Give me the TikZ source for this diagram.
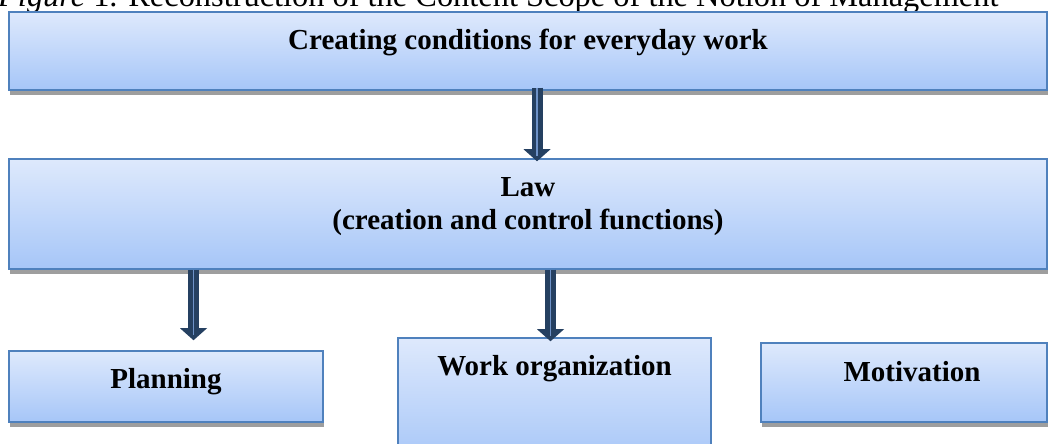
\documentclass[tikz,border=0pt]{standalone}
\usepackage{fontspec}
\setmainfont{Liberation Serif}
\usetikzlibrary{arrows.meta,shadows,calc}
\definecolor{boxtop}{RGB}{222,233,252}
\definecolor{boxbot}{RGB}{166,198,248}
\definecolor{boxline}{RGB}{79,129,189}
\definecolor{arrowdark}{RGB}{37,64,97}
\definecolor{arrowlight}{RGB}{110,146,200}
\begin{document}
\begin{tikzpicture}[x=1pt,y=1pt,
        box/.style={draw=boxline,line width=1.5pt,top color=boxtop,bottom color=boxbot,inner sep=0pt,
            drop shadow={shadow xshift=1pt,shadow yshift=-5pt,fill=black!38,opacity=1}},
        boxtext/.style={font=\bfseries\fontsize{29}{33}\selectfont,anchor=base,inner sep=0pt},
        bigarrow/.style={draw=arrowdark,line width=11pt,-{Triangle[width=27pt,length=12pt,line width=0pt]}},
        stripe/.style={draw=arrowlight,line width=1.5pt}]
        \useasboundingbox (0,0) rectangle (1049,444);
        \node[anchor=base west,inner sep=0pt,font=\fontsize{32.4}{36}\selectfont] (caption) at (-2,437.5)
            {\textit{Figure} 1. Reconstruction of the Content Scope of the Notion of Management};
        % the blocks
        \node[box,minimum width=1038pt,minimum height=78pt] (top) at (528,393) {};
        \node[box,minimum width=1038pt,minimum height=110pt] (law) at (528,230) {};
        \node[box,minimum width=314pt,minimum height=71pt] (planning) at (166,57.5) {};
        \node[box,minimum width=313pt,minimum height=126pt] (work) at (554.5,43) {};
        \node[box,minimum width=286pt,minimum height=79pt] (motivation) at (904,61.5) {};
        \node[boxtext] (toptext) at ($(top.center)+(0,1)$) {Creating conditions for everyday work};
        \node[boxtext] (lawtext) at ($(law.center)+(0,17)$) {Law};
        \node[boxtext] (lawsub) at ($(law.center)+(0,-16)$) {(creation and control functions)};
        \node[boxtext] (planningtext) at ($(planning.center)+(0,-2.5)$) {Planning};
        \node[boxtext] (worktext) at ($(work.north)+(0,-38)$) {Work organization};
        \node[boxtext] (motivationtext) at ($(motivation.center)+(8,0.5)$) {Motivation};
        % arrows between the blocks
        \coordinate (a1) at ($(top.south)+(9,3)$);
        \coordinate (b1) at ($(law.north)+(9,-3)$);
        \coordinate (a2) at ($(law.south -| planning.north)+(27.5,0)$);
        \coordinate (b2) at ($(planning.north)+(27.5,10)$);
        \coordinate (a3) at ($(law.south -| work.north)+(-4,0)$);
        \coordinate (b3) at ($(work.north)+(-4,-4)$);
        \foreach \s/\e in {a1/b1,a2/b2,a3/b3}{
            \draw[bigarrow] (\s) -- (\e);
            \draw[stripe] (\s) -- ($(\e)+(0,5)$);
        }
\end{tikzpicture}
\end{document}
